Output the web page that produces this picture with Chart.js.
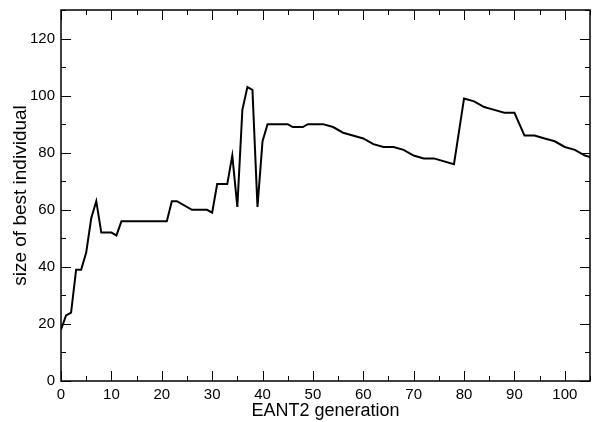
<!DOCTYPE html>
<html>
<head>
<meta charset="utf-8">
<script src="https://cdn.jsdelivr.net/npm/chart.js@4"></script>
<style>
  html, body { margin: 0; padding: 0; background: #fff; }
  #wrap { width: 594px; height: 422px; }
</style>
</head>
<body>
<div id="wrap"><canvas id="c" width="594" height="422"></canvas></div>
<script>
// generation numbers and size of best individual
const generations = [0, 1, 2, 3, 4, 5, 6, 7, 8, 10, 11, 12, 21, 22, 23, 26, 29, 30, 31, 33,
  34, 35, 36, 37, 38, 39, 40, 41, 45, 46, 48, 49, 52, 54, 56, 60, 62, 64, 66, 68,
  70, 72, 74, 78, 80, 82, 84, 86, 88, 90, 92, 94, 96, 98, 100, 102, 104, 105];
const bestSize = [18, 23, 24, 39, 39, 45, 57, 63, 52, 52, 51, 56, 56, 63, 63, 60, 60, 59, 69, 69,
  79, 61, 95, 103, 102, 61, 84, 90, 90, 89, 89, 90, 90, 89, 87, 85, 83, 82, 82, 81,
  79, 78, 78, 76, 99, 98, 96, 95, 94, 94, 86, 86, 85, 84, 82, 81, 79, 78.5];

const xTitle = 'EANT2 generation';
const yTitle = 'size of best individual';

const FONT = '"Liberation Sans", Arial, Helvetica, sans-serif';

// grace-style frame with inward ticks on all four sides
const frameTicks = {
  id: 'frameTicks',
  afterDraw(chart) {
    const { ctx, chartArea: a, scales } = chart;
    ctx.save();
    ctx.strokeStyle = '#000';
    ctx.lineWidth = 1.5;
    ctx.strokeRect(a.left, a.top, a.right - a.left, a.bottom - a.top);
    ctx.lineWidth = 1;
    const xs = scales.x, ys = scales.y;
    const xStep = xs.options.ticks.stepSize, yStep = ys.options.ticks.stepSize;
    ctx.beginPath();
    for (let v = xs.min; v <= xs.max; v += xStep / 2) {
      const len = (v % xStep === 0) ? 10 : 5;
      const px = Math.round(xs.getPixelForValue(v)) + 0.5;
      ctx.moveTo(px, a.bottom); ctx.lineTo(px, a.bottom - len);
      ctx.moveTo(px, a.top); ctx.lineTo(px, a.top + len);
    }
    for (let v = ys.min; v <= ys.max; v += yStep / 2) {
      const len = (v % yStep === 0) ? 10 : 5;
      const py = Math.round(ys.getPixelForValue(v)) + 0.5;
      ctx.moveTo(a.left, py); ctx.lineTo(a.left + len, py);
      ctx.moveTo(a.right, py); ctx.lineTo(a.right - len, py);
    }
    ctx.stroke();
    ctx.restore();
  }
};

new Chart(document.getElementById('c'), {
  type: 'line',
  data: {
    datasets: [{
      data: generations.map((g, i) => ({ x: g, y: bestSize[i] })),
      borderColor: '#000',
      borderWidth: 2,
      pointRadius: 0,
      fill: false,
      tension: 0,
    }],
  },
  options: {
    responsive: false,
    animation: false,
    events: [],
    layout: { padding: { top: 10, right: 4, left: 9, bottom: 0 } },
    plugins: { legend: { display: false }, tooltip: { enabled: false } },
    scales: {
      x: {
        type: 'linear',
        min: 0,
        max: 105,
        border: { display: false },
        grid: { display: false, drawTicks: false },
        ticks: {
          stepSize: 10,
          includeBounds: false,
          padding: 5,
          color: '#000',
          maxRotation: 0,
          font: { family: FONT, size: 15 },
        },
        title: {
          display: true,
          text: xTitle,
          color: '#000',
          padding: 0,
          font: { family: FONT, size: 18 },
        },
        afterFit(s) { s.height = 41; s.paddingLeft = 0; s.paddingRight = 0; },
      },
      y: {
        min: 0,
        max: 130,
        border: { display: false },
        grid: { display: false, drawTicks: false },
        ticks: {
          stepSize: 20,
          includeBounds: false,
          padding: 6,
          color: '#000',
          font: { family: FONT, size: 15 },
        },
        title: {
          display: true,
          text: yTitle,
          color: '#000',
          padding: 0,
          font: { family: FONT, size: 19 },
        },
        afterFit(s) { s.width = 52; s.paddingTop = 0; s.paddingBottom = 0; },
      },
    },
  },
  plugins: [frameTicks],
});
</script>
</body>
</html>
